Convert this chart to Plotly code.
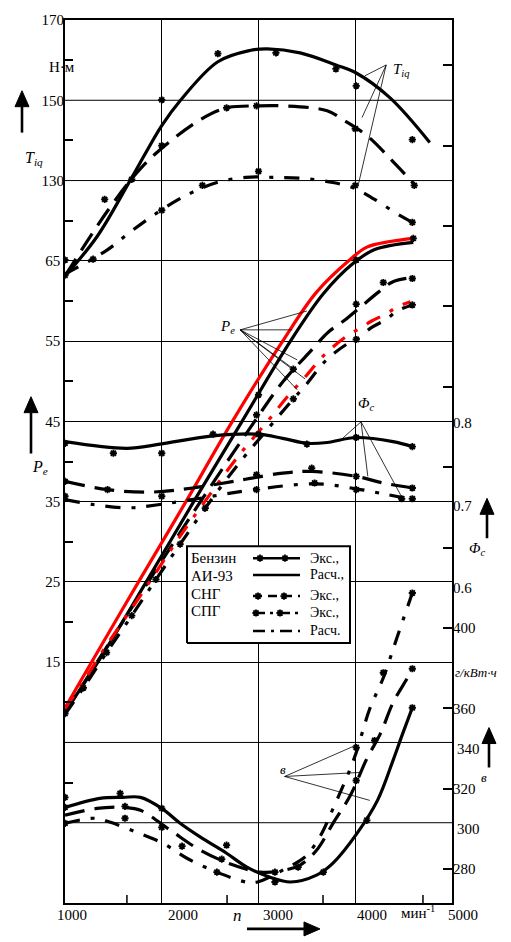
import plotly.graph_objects as go

# ---------------- data ----------------
# Indicated torque T_iq, N·m  (solid = petrol, dashed = CNG, dash-dot = LPG)
TIQ_BENZ_N = [1000, 1330, 1680, 2000, 2190, 2580, 2910, 3090, 3430, 3800, 4010, 4360, 4770]
TIQ_BENZ = [106.2, 116.0, 130.3, 143.7, 149.9, 159.6, 162.4, 162.8, 161.8, 158.8, 156.8, 150.6, 139.5]
TIQ_CNG_N = [1000, 1430, 1720, 1950, 2400, 2670, 2980, 3250, 3710, 3870, 4120, 4430, 4620]
TIQ_CNG = [106.2, 122.1, 131.3, 137.0, 145.2, 148.1, 148.6, 148.6, 147.4, 145.2, 141.2, 133.7, 128.8]
TIQ_SPG_N = [1000, 1430, 1670, 1930, 2160, 2310, 2570, 2870, 3150, 3480, 3770, 4000, 4200, 4460, 4590]
TIQ_SPG = [106.7, 112.6, 117.1, 121.6, 125.1, 127.0, 129.5, 130.8, 130.8, 130.5, 129.5, 128.0, 125.3, 121.3, 119.6]
TIQ_BENZ_EXP_N = [1000, 2000, 2580, 3180, 3800, 4010, 4590]
TIQ_BENZ_EXP = [106.4, 150.1, 161.6, 161.8, 157.8, 153.6, 140.2]
TIQ_CNG_EXP_N = [1000, 1410, 1690, 2000, 2670, 2980, 4000, 4610]
TIQ_CNG_EXP = [110.2, 125.3, 130.3, 138.7, 148.1, 148.6, 142.9, 128.8]
TIQ_SPG_EXP_N = [1290, 2000, 2420, 3000, 4000, 4590]
TIQ_SPG_EXP = [110.4, 122.6, 128.8, 132.3, 128.8, 119.6]

# Effective power P_e, kW
PE_RED_N = [1000, 1250, 1760, 2250, 2730, 3250, 3600, 3950, 4120, 4360, 4600]
PE_RED = [9.3, 14.5, 25.0, 35.0, 45.0, 55.0, 61.1, 65.2, 66.7, 67.4, 67.8]
PE_BENZ_N = [1000, 1340, 1840, 2330, 2830, 3330, 3670, 3970, 4200, 4600]
PE_BENZ = [8.8, 15.0, 25.0, 35.0, 45.0, 55.0, 60.9, 64.6, 66.4, 67.3]
PE_CNG_N = [1000, 1860, 2400, 2960, 3250, 3550, 3720, 3890, 4050, 4240, 4390, 4590]
PE_CNG = [8.7, 25.0, 35.0, 45.0, 49.9, 53.9, 56.1, 57.6, 59.2, 61.1, 62.4, 62.9]
PE_RED2_N = [1000, 1190, 1430, 1690, 1940, 2190, 2480, 2800, 3120, 3300, 3480, 3690, 3910, 4050, 4170, 4320, 4440, 4570]
PE_RED2 = [9.2, 12.6, 17.1, 21.7, 26.2, 30.7, 35.6, 40.8, 45.4, 48.1, 50.5, 53.4, 55.6, 56.6, 57.5, 58.4, 59.3, 59.9]
PE_SPG_N = [1000, 1190, 1430, 1690, 1940, 2190, 2450, 2800, 3120, 3360, 3480, 3690, 3910, 4010, 4170, 4320, 4440, 4590]
PE_SPG = [8.5, 11.8, 16.2, 20.8, 25.3, 29.7, 34.2, 39.8, 44.4, 47.8, 49.4, 52.5, 54.6, 55.2, 56.7, 57.7, 58.8, 59.5]
PE_BENZ_EXP_N = [1000, 3000, 4010, 4600]
PE_BENZ_EXP = [8.6, 48.3, 65.1, 67.8]
PE_CNG_EXP_N = [2980, 3360, 4010, 4290, 4590]
PE_CNG_EXP = [45.8, 51.5, 59.6, 62.3, 62.8]
PE_SPG_EXP_N = [1190, 1430, 1690, 1940, 2190, 2450, 3360, 4010, 4590]
PE_SPG_EXP = [11.8, 16.2, 20.8, 25.3, 29.7, 34.2, 47.8, 55.2, 59.5]

# Filling coefficient Phi_c
PHI_BENZ_N = [1000, 1640, 1980, 2530, 3000, 3250, 3500, 3710, 4010, 4390, 4590]
PHI_BENZ = [0.777, 0.769, 0.774, 0.784, 0.786, 0.781, 0.775, 0.776, 0.782, 0.777, 0.771]
PHI_CNG_N = [1000, 1440, 1880, 2320, 2840, 3250, 3550, 4010, 4290, 4590]
PHI_CNG = [0.729, 0.719, 0.716, 0.721, 0.731, 0.739, 0.741, 0.735, 0.727, 0.721]
PHI_SPG_N = [1000, 1290, 1650, 1980, 2470, 2950, 3590, 4010, 4330, 4590]
PHI_SPG = [0.707, 0.701, 0.697, 0.701, 0.710, 0.719, 0.726, 0.720, 0.713, 0.707]
PHI_BENZ_EXP_N = [1000, 1500, 2000, 2530, 3000, 3500, 4010, 4590]
PHI_BENZ_EXP = [0.775, 0.763, 0.763, 0.786, 0.786, 0.774, 0.782, 0.771]
PHI_CNG_EXP_N = [1000, 1440, 2980, 3550, 4010, 4590]
PHI_CNG_EXP = [0.729, 0.719, 0.737, 0.745, 0.735, 0.721]
PHI_SPG_EXP_N = [1000, 2000, 2980, 3580, 4010, 4480, 4590]
PHI_SPG_EXP = [0.711, 0.711, 0.719, 0.727, 0.719, 0.708, 0.708]

# Specific fuel consumption b, g/kWh
B_BENZ_N = [1000, 1360, 1600, 1780, 2000, 2190, 2400, 2670, 2880, 3120, 3330, 3600, 3770, 4020, 4230, 4390, 4490, 4590]
B_BENZ = [310.7, 315.2, 315.7, 315.7, 310.2, 302.8, 295.9, 287.9, 281.0, 276.0, 273.6, 277.0, 283.0, 297.9, 314.2, 334.0, 347.4, 360.3]
B_CNG_N = [1000, 1330, 1620, 1780, 2090, 2400, 2740, 3020, 3270, 3430, 3600, 3770, 3950, 4120, 4260, 4390, 4540, 4590]
B_CNG = [306.8, 310.2, 310.7, 309.3, 299.3, 289.4, 282.0, 278.5, 279.5, 282.0, 289.4, 302.8, 316.7, 335.0, 347.4, 362.8, 375.2, 379.7]
B_SPG_N = [1000, 1310, 1470, 1740, 2010, 2260, 2570, 2880, 2990, 3270, 3480, 3580, 3660, 3740, 3920, 4010, 4150, 4290, 4430, 4590]
B_SPG = [302.8, 305.3, 303.3, 298.3, 292.9, 285.4, 278.5, 273.5, 273.6, 280.0, 286.0, 291.9, 298.3, 306.8, 326.6, 338.0, 359.8, 375.2, 395.0, 417.4]
B_BENZ_EXP_N = [1000, 1570, 2000, 2670, 3170, 3670, 4120, 4590]
B_BENZ_EXP = [315.7, 317.7, 310.2, 291.9, 273.6, 278.5, 304.3, 360.3]
B_CNG_EXP_N = [1000, 1620, 2210, 2620, 3170, 3410, 4010, 4200, 4590]
B_CNG_EXP = [310.7, 311.2, 291.4, 285.0, 278.5, 281.0, 324.1, 344.0, 379.7]
B_SPG_EXP_N = [1000, 1620, 2000, 2570, 4010, 4290, 4590]
B_SPG_EXP = [302.8, 305.3, 300.8, 278.5, 340.5, 377.7, 417.4]

# axes / ticks
X_RANGE = [1000, 5000]
X_GRID = [2000, 3000, 4000]
X_LABELS = ["1000", "2000", "3000", "4000", "5000"]
X_LABEL_VALS = [1000, 2000, 3000, 4000, 5000]
X_LABEL_SHIFT = [7, 21, 19, 17, 11]
X_MINOR = [1640, 2675, 3667, 4700]
PE_RANGE = [-15, 95]
PE_TICKS = [15, 25, 35, 45, 55, 65]
PE_EXTRA_GRID = [-5, 5, 75, 85]
PE_MINOR = [0, 10, 20, 30, 40, 50, 60, 70, 80, 90]
TIQ_RANGE = [-50, 170]
TIQ_TICKS = [130, 150, 170]
PHI_RANGE = [0.21928, 1.28675]
PHI_TICKS = [0.6, 0.7, 0.8]
B_RANGE = [263.14, 702.5]
B_TICKS = [280, 320, 360, 400]
B_EXTRA_LABELS = [300, 340]
B_MINOR = [440, 480, 520, 560, 600, 640, 680]

# leader lines (label point -> curves), in each quantity's own units
TIQ_LEAD_FROM = (4320, 158.8)
TIQ_LEAD_TO = [(4100, 156.1), (4070, 145.7), (4030, 128.8)]
PE_LEAD_FROM = (2810, 56.4)
PE_LEAD_TO = [(3500, 58.75), (3350, 56.4), (3400, 52.66), (3360, 51.55), (3480, 50.3), (3400, 48.94)]
PHI_LEAD_FROM = (4060, 0.801)
PHI_LEAD_TO = [(3840, 0.778), (4130, 0.735), (4490, 0.708)]
B_LEAD_FROM = (3270, 326.1)
B_LEAD_TO = [(4000, 341.5), (4050, 328.1), (4150, 314.2)]

LEG_LEFT = ["Бензин", "АИ-93", "СНГ", "СПГ"]
LEG_RIGHT = ["Экс.,", "Расч.,", "Экс.,", "Экс.,", "Расч."]

# ---------------- styling ----------------
FONT = "Liberation Serif"
DASH = "20px,10px"
DASHDOT = "15px,11px,4px,11px"
W = 3.2
MSIZE = 6

# plot area in pixels
L, R, T, B = 65, 452, 17, 903


def PX(x):
    return (x - L) / (R - L)


def PY(y):
    return (B - y) / (B - T)


fig = go.Figure()


def curve(n, v, ya, dash="solid", color="black", width=W):
    fig.add_trace(go.Scatter(x=n, y=v, yaxis=ya, mode="lines",
                             line=dict(color=color, width=width, dash=dash, shape="spline"),
                             hoverinfo="skip"))


def pts(n, v, ya, xa="x"):
    fig.add_trace(go.Scatter(x=n, y=v, xaxis=xa, yaxis=ya, mode="markers",
                             marker=dict(symbol="asterisk-open", size=MSIZE, color="black",
                                         line=dict(color="black", width=1.8)),
                             hoverinfo="skip"))


# Pe (primary y)
curve(PE_RED_N, PE_RED, "y", color="#ff0000")
curve(PE_BENZ_N, PE_BENZ, "y")
curve(PE_CNG_N, PE_CNG, "y", dash=DASH)
curve(PE_RED2_N, PE_RED2, "y", dash=DASHDOT, color="#ff0000")
curve(PE_SPG_N, PE_SPG, "y", dash=DASHDOT)
pts(PE_BENZ_EXP_N, PE_BENZ_EXP, "y")
pts(PE_CNG_EXP_N, PE_CNG_EXP, "y")
pts(PE_SPG_EXP_N, PE_SPG_EXP, "y")

# Tiq
curve(TIQ_BENZ_N, TIQ_BENZ, "y2")
curve(TIQ_CNG_N, TIQ_CNG, "y2", dash=DASH)
curve(TIQ_SPG_N, TIQ_SPG, "y2", dash=DASHDOT)
pts(TIQ_BENZ_EXP_N, TIQ_BENZ_EXP, "y2")
pts(TIQ_CNG_EXP_N, TIQ_CNG_EXP, "y2")
pts(TIQ_SPG_EXP_N, TIQ_SPG_EXP, "y2")

# Phi_c
curve(PHI_BENZ_N, PHI_BENZ, "y3")
curve(PHI_CNG_N, PHI_CNG, "y3", dash=DASH)
curve(PHI_SPG_N, PHI_SPG, "y3", dash=DASHDOT)
pts(PHI_BENZ_EXP_N, PHI_BENZ_EXP, "y3")
pts(PHI_CNG_EXP_N, PHI_CNG_EXP, "y3")
pts(PHI_SPG_EXP_N, PHI_SPG_EXP, "y3")

# b
curve(B_BENZ_N, B_BENZ, "y4")
curve(B_CNG_N, B_CNG, "y4", dash=DASH)
curve(B_SPG_N, B_SPG, "y4", dash=DASHDOT)
pts(B_BENZ_EXP_N, B_BENZ_EXP, "y4")
pts(B_CNG_EXP_N, B_CNG_EXP, "y4")
pts(B_SPG_EXP_N, B_SPG_EXP, "y4")

# ---------------- legend box (drawn in plot-fraction coordinates) ----------------
bx0, bx1, by0, by1 = PX(187), PX(350), PY(642), PY(545)
fig.add_trace(go.Scatter(x=[bx0, bx1, bx1, bx0, bx0], y=[by0, by0, by1, by1, by0],
                         xaxis="x2", yaxis="y5", mode="lines", fill="toself",
                         fillcolor="white", line=dict(color="black", width=2), hoverinfo="skip"))
sx0, sx1 = PX(253), PX(300)
leg_rows = [PY(557), PY(574), PY(595), PY(612), PY(630)]
leg_dash = ["solid", "solid", "9px,6px", "12px,5px,3px,5px", "12px,6px,3px,6px"]
leg_marks = [[PX(260), PX(285)], [], [PX(258), PX(284)], [PX(256), PX(280)], []]
for yy, dsh, mk in zip(leg_rows, leg_dash, leg_marks):
    fig.add_trace(go.Scatter(x=[sx0, sx1], y=[yy, yy], xaxis="x2", yaxis="y5", mode="lines",
                             line=dict(color="black", width=2.5, dash=dsh), hoverinfo="skip"))
    if mk:
        pts(mk, [yy] * len(mk), "y5", xa="x2")

annotations = []
for txt, yy in zip(LEG_LEFT, [PY(557), PY(575), PY(593), PY(610)]):
    annotations.append(dict(text=txt, x=PX(189), y=yy, xref="paper", yref="paper",
                            xanchor="left", yanchor="middle", showarrow=False,
                            font=dict(size=15, family=FONT)))
for txt, yy in zip(LEG_RIGHT, [PY(557), PY(573), PY(594), PY(612), PY(630)]):
    annotations.append(dict(text=txt, x=PX(308), y=yy, xref="paper", yref="paper",
                            xanchor="left", yanchor="middle", showarrow=False,
                            font=dict(size=14, family=FONT)))

# x tick labels (placed like in the original print)
for v, lab, sh in zip(X_LABEL_VALS, X_LABELS, X_LABEL_SHIFT):
    annotations.append(dict(text=lab, x=v, xref="x", y=0, yref="paper", xshift=sh, yshift=-12,
                            xanchor="center", yanchor="middle", showarrow=False,
                            font=dict(size=15, family=FONT)))
annotations.append(dict(text="мин<sup>-1</sup>", x=PX(418), y=PY(912), xref="paper", yref="paper",
                        xanchor="center", yanchor="middle", showarrow=False,
                        font=dict(size=15, family=FONT)))
# extra b labels
for v in B_EXTRA_LABELS:
    annotations.append(dict(text=str(v), x=1, xref="paper", y=v, yref="y4", xanchor="left",
                            xshift=3, yanchor="middle", showarrow=False,
                            font=dict(size=15, family=FONT)))
annotations.append(dict(text="<i>г/кВт·ч</i>", x=1, xref="paper", y=380, yref="y4", xanchor="left",
                        xshift=1, yshift=-4, yanchor="middle", showarrow=False,
                        font=dict(size=13, family=FONT)))
annotations.append(dict(text="<i>в</i>", x=PX(489), y=PY(787), xref="paper", yref="paper",
                        showarrow=False, font=dict(size=13, family=FONT)))
annotations.append(dict(text="Н·м", x=PX(47), y=PY(54), xref="paper", yref="paper",
                        showarrow=False, font=dict(size=15, family=FONT)))

# axis name labels
annotations += [
    dict(text="<i>T</i><sub><i>iq</i></sub>", x=PX(23), y=PY(144), xref="paper", yref="paper",
         showarrow=False, font=dict(size=16, family=FONT)),
    dict(text="<i>P</i><sub><i>e</i></sub>", x=PX(30), y=PY(466), xref="paper", yref="paper",
         showarrow=False, font=dict(size=16, family=FONT)),
    dict(text="<i>Φ</i><sub><i>c</i></sub>", x=PX(487), y=PY(548), xref="paper", yref="paper",
         showarrow=False, font=dict(size=15, family=FONT)),
    dict(text="<i>n</i>", x=PX(237), y=PY(927), xref="paper", yref="paper",
         showarrow=False, font=dict(size=17, family=FONT)),
]

# in-plot curve labels
annotations += [
    dict(text="<i>T</i><sub><i>iq</i></sub>", x=4480, xref="x", y=157.5, yref="y2",
         showarrow=False, font=dict(size=15, family=FONT)),
    dict(text="<i>P</i><sub><i>e</i></sub>", x=2680, xref="x", y=56.8, yref="y",
         showarrow=False, font=dict(size=15, family=FONT)),
    dict(text="<i>Φ</i><sub><i>c</i></sub>", x=4110, xref="x", y=0.822, yref="y3",
         showarrow=False, font=dict(size=15, family=FONT)),
    dict(text="<i>в</i>", x=3250, xref="x", y=329.5, yref="y4",
         showarrow=False, font=dict(size=13, family=FONT)),
]

shapes = []
# grid lines at unlabelled positions
for v in PE_EXTRA_GRID:
    shapes.append(dict(type="line", xref="paper", yref="y", x0=0, x1=1, y0=v, y1=v,
                       layer="below", line=dict(color="black", width=1)))
for frm, tos, yr in [(TIQ_LEAD_FROM, TIQ_LEAD_TO, "y2"), (PE_LEAD_FROM, PE_LEAD_TO, "y"),
                     (PHI_LEAD_FROM, PHI_LEAD_TO, "y3"), (B_LEAD_FROM, B_LEAD_TO, "y4")]:
    for to in tos:
        shapes.append(dict(type="line", xref="x", yref=yr, x0=frm[0], y0=frm[1], x1=to[0], y1=to[1],
                           line=dict(color="black", width=0.8)))
for v in X_MINOR:
    shapes.append(dict(type="line", xref="x", yref="paper", x0=v, x1=v, y0=0, y1=8 / (B - T),
                       line=dict(color="black", width=1.5)))

# arrows (shaft + filled head), pixel positions converted to paper fractions
HL, HW = 16, 7  # head length, half width
for (hx, hy, tx, ty) in [(22, 88, 22, 130), (31, 395, 31, 452), (487, 497, 487, 537),
                         (489, 727, 489, 767), (320, 929, 247, 929)]:
    if hx == tx:  # vertical, pointing up
        base = (hx, hy + HL)
        p1, p2 = (hx - HW, hy + HL), (hx + HW, hy + HL)
    else:  # horizontal, pointing right
        base = (hx - HL, hy)
        p1, p2 = (hx - HL, hy - HW), (hx - HL, hy + HW)
    shapes.append(dict(type="line", xref="paper", yref="paper",
                       x0=PX(tx), y0=PY(ty), x1=PX(base[0]), y1=PY(base[1]),
                       line=dict(color="black", width=2.6)))
    path = "M {:.5f} {:.5f} L {:.5f} {:.5f} L {:.5f} {:.5f} Z".format(
        PX(hx), PY(hy), PX(p1[0]), PY(p1[1]), PX(p2[0]), PY(p2[1]))
    shapes.append(dict(type="path", xref="paper", yref="paper", path=path,
                       fillcolor="black", line=dict(color="black", width=1)))

axis_common = dict(showline=True, mirror=True, linecolor="black", linewidth=1.5, zeroline=False)
hidden_axis = dict(range=[0, 1], visible=False, showticklabels=False, ticks="", showgrid=False,
                   zeroline=False, showline=False)

fig.update_layout(
    width=511, height=942,
    margin=dict(l=L, r=511 - R, t=T, b=942 - B, pad=0),
    paper_bgcolor="white", plot_bgcolor="white", showlegend=False,
    font=dict(family=FONT, size=15, color="black"),
    xaxis=dict(range=X_RANGE, tickvals=X_GRID, showticklabels=False, ticks="",
               showgrid=True, gridcolor="black", gridwidth=1, **axis_common),
    yaxis=dict(range=PE_RANGE, tickvals=PE_TICKS, ticks="",
               showgrid=True, gridcolor="black", gridwidth=1,
               minor=dict(tickmode="array", tickvals=PE_MINOR, ticks="inside", ticklen=8,
                          tickwidth=1.5, tickcolor="black", showgrid=False),
               tickfont=dict(size=15, family=FONT), **axis_common),
    yaxis2=dict(range=TIQ_RANGE, overlaying="y", side="left", tickvals=TIQ_TICKS, ticks="",
                showgrid=False, zeroline=False, showline=False, tickfont=dict(size=15, family=FONT)),
    yaxis3=dict(range=PHI_RANGE, overlaying="y", side="right", tickvals=PHI_TICKS,
                ticktext=[str(v) for v in PHI_TICKS], ticks="", showgrid=False, zeroline=False,
                showline=False, tickfont=dict(size=15, family=FONT)),
    yaxis4=dict(range=B_RANGE, overlaying="y", side="right", tickvals=B_TICKS, ticks="inside",
                ticklen=9, tickwidth=1.5, tickcolor="black", showgrid=False, zeroline=False,
                showline=False,
                minor=dict(tickmode="array", tickvals=B_MINOR, ticks="inside", ticklen=9,
                           tickwidth=1.5, tickcolor="black", showgrid=False),
                tickfont=dict(size=15, family=FONT)),
    xaxis2=dict(overlaying="x", anchor="y5", **hidden_axis),
    yaxis5=dict(overlaying="y", anchor="x2", **hidden_axis),
    annotations=annotations,
    shapes=shapes,
)

fig.write_html("out.html")
